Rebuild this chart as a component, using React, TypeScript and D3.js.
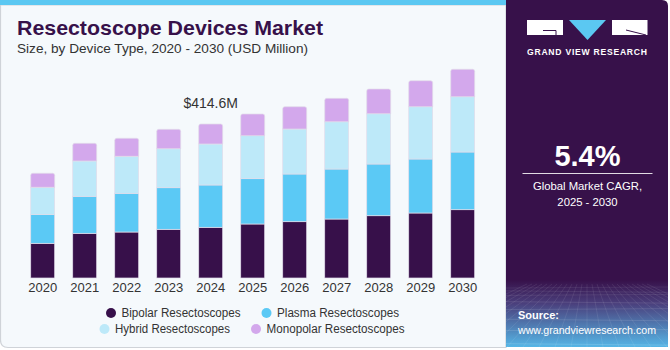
import React from "react";
import * as d3 from "d3";

const years = ["2020","2021","2022","2023","2024","2025","2026","2027","2028","2029","2030"];
const bipolar = [93.4,120.3,123.8,131.1,136.5,145.4,151.6,158.8,167.7,175.0,183.9];
const plasma = [77.2,99.6,104.2,112.0,113.9,122.0,128.4,134.6,139.2,145.4,155.3];
const hybrid = [73.6,95.1,99.6,105.0,110.4,115.8,121.1,127.3,135.4,140.8,148.9];
const monopolar = [37.7,47.6,48.5,52.2,53.8,58.4,60.0,63.0,66.5,70.0,73.8];
const seriesNames = ["Bipolar Resectoscopes","Plasma Resectoscopes","Hybrid Resectoscopes","Monopolar Resectoscopes"];
const seriesKeys = ["bipolar","plasma","hybrid","monopolar"];
const colors = ["#37104a","#5bc9f5","#bde9f9","#d3a8ec"];
const annotationYear = "2024";
const annotationText = "$414.6M";

const FONT = "'Liberation Sans', Arial, sans-serif";

export default function App() {
  const W = 670, H = 350;
  const rows = years.map((y, i) => ({
    year: y, bipolar: bipolar[i], plasma: plasma[i], hybrid: hybrid[i], monopolar: monopolar[i],
  }));
  const stack = d3.stack<any>().keys(seriesKeys)(rows);
  const x = d3.scaleBand().domain(years).range([21.7, 483.7]).paddingInner(0.43).paddingOuter(0.215);
  const y = d3.scaleLinear().domain([0, 500]).range([278, 92.3]);
  const bw = x.bandwidth();

  const topPath = (x0: number, y0: number, y1: number, w: number, r: number) => {
    const p = d3.path();
    p.moveTo(x0, y1);
    p.lineTo(x0, y0 + r);
    p.quadraticCurveTo(x0, y0, x0 + r, y0);
    p.lineTo(x0 + w - r, y0);
    p.quadraticCurveTo(x0 + w, y0, x0 + w, y0 + r);
    p.lineTo(x0 + w, y1);
    p.closePath();
    return p.toString();
  };

  const annIdx = years.indexOf(annotationYear);
  const annTotal = bipolar[annIdx] + plasma[annIdx] + hybrid[annIdx] + monopolar[annIdx];

  const legendItems = [
    { i: 0, cx: 111, cy: 313, w: 119 },
    { i: 1, cx: 266.5, cy: 313, w: 122 },
    { i: 2, cx: 104.5, cy: 329, w: 115 },
    { i: 3, cx: 256, cy: 329, w: 138 },
  ];

  const gridH = d3.range(0, 9).map(k => 288 + k * k * 0.85 + k * 2);
  const gridV = d3.range(-12, 13).map(k => k);

  return (
    <svg width={W} height={H} style={{ position: "absolute", left: 0, top: 0 }} fontFamily={FONT}>
      <defs>
        <linearGradient id="foot" x1="0" y1="0" x2="0" y2="1">
          <stop offset="0" stopColor="#37114a" />
          <stop offset="0.35" stopColor="#4a3f7c" />
          <stop offset="1" stopColor="#55b6e6" />
        </linearGradient>
        <clipPath id="footClip">
          <rect x={506} y={280} width={162} height={67} />
        </clipPath>
      </defs>
      <rect x={0} y={0} width={W} height={H} fill="#ffffff" />
      <path d="M0.5,5 L506,5 L506,347.5 L8,347.5 Q0.5,347.5 0.5,340 Z" fill="#f5f9fc" stroke="#cfd3d8" strokeWidth={1.2} />
      <rect x={0} y={0} width={506} height={5} fill="#5bc8f2" />
      <path d="M506,0 L662,0 Q668,0 668,6 L668,347 L506,347 Z" fill="#37114a" />
      <g clipPath="url(#footClip)">
        <rect x={506} y={280} width={162} height={67} fill="url(#foot)" />
        {gridH.map((gy, k) => (
          <line key={"h" + k} x1={506} x2={668} y1={gy} y2={gy + (k % 2 ? 1.5 : -1)} stroke="#ffffff" strokeOpacity={0.12 + k * 0.015} strokeWidth={0.6} />
        ))}
        {gridV.map(k => (
          <line key={"v" + k} x1={587 + k * 5} y1={284} x2={587 + k * 16} y2={347} stroke="#ffffff" strokeOpacity={0.14} strokeWidth={0.6} />
        ))}
      </g>
      <rect x={527} y={20} width={36} height={15} fill="#ffffff" />
      <path d="M543,30.5 L556,30.5 L556,35" fill="none" stroke="#37114a" strokeWidth={1} />
      <path d="M569,20 L606,20 L587.5,40 Z" fill="#5bc8f2" />
      <rect x={612} y={20} width={35.5} height={15} fill="#ffffff" />
      <path d="M626,30 L646,35" fill="none" stroke="#37114a" strokeWidth={1} />
      <text x={527} y={54.5} fill="#ffffff" fontSize={8.6} fontWeight="bold" textLength={120} lengthAdjust="spacing">GRAND VIEW RESEARCH</text>
      <text x={587.5} y={166} textAnchor="middle" fill="#ffffff" fontSize={29} fontWeight="bold">5.4%</text>
      <line x1={522.5} x2={652.5} y1={173.5} y2={173.5} stroke="#ffffff" strokeWidth={1} strokeOpacity={0.85} />
      <text x={587.5} y={189.5} textAnchor="middle" fill="#ffffff" fontSize={11.3}>Global Market CAGR,</text>
      <text x={587.5} y={205.5} textAnchor="middle" fill="#ffffff" fontSize={11.3}>2025 - 2030</text>
      <text x={518} y={319} fill="#ffffff" fontSize={11} fontWeight="bold">Source:</text>
      <text x={518} y={334} fill="#ffffff" fontSize={11} textLength={138} lengthAdjust="spacingAndGlyphs">www.grandviewresearch.com</text>
      <text x={17} y={35} fill="#37114a" fontSize={20.5} fontWeight="bold" textLength={306} lengthAdjust="spacingAndGlyphs">Resectoscope Devices Market</text>
      <text x={17} y={52.5} fill="#333333" fontSize={13} textLength={291} lengthAdjust="spacingAndGlyphs">Size, by Device Type, 2020 - 2030 (USD Million)</text>
      {stack.map((s, si) => (
        <g key={si} fill={colors[si]}>
          {s.map((d, di) => {
            const x0 = x(years[di]) as number;
            const yTop = y(d[1]);
            const yBot = y(d[0]);
            if (si === stack.length - 1) {
              return <path key={di} d={topPath(x0, yTop, yBot, bw, 2)} stroke="#e2dcea" strokeWidth={0.7} />;
            }
            return <rect key={di} x={x0} y={yTop} width={bw} height={yBot - yTop} stroke="#e2dcea" strokeWidth={0.7} />;
          })}
        </g>
      ))}
      {years.map(yr => (
        <text key={yr} x={(x(yr) as number) + bw / 2} y={292} textAnchor="middle" fill="#333333" fontSize={13}>{yr}</text>
      ))}
      <text x={(x(annotationYear) as number) + bw / 2} y={y(annTotal) - 16} textAnchor="middle" fill="#333333" fontSize={14}>{annotationText}</text>
      {legendItems.map(it => (
        <g key={it.i}>
          <circle cx={it.cx} cy={it.cy} r={5} fill={colors[it.i]} />
          <text x={it.cx + 10.5} y={it.cy + 4.3} fill="#333333" fontSize={12} textLength={it.w} lengthAdjust="spacingAndGlyphs">{seriesNames[it.i]}</text>
        </g>
      ))}
    </svg>
  );
}
